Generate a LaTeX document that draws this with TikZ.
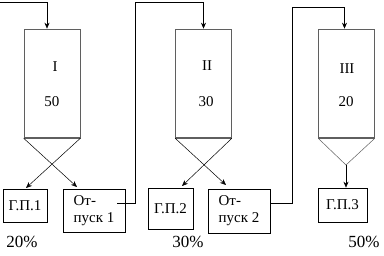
\documentclass[tikz,border=0pt]{standalone}
\usepackage{fontspec}
\setmainfont{Liberation Serif}
\usetikzlibrary{arrows.meta}
\usetikzlibrary{calc}
\definecolor{lineGray}{RGB}{95,95,95}

\begin{document}
\begin{tikzpicture}[
    x=1pt, y=-1pt,
    line width=0.6pt,
    column/.style={
        draw=lineGray,
        minimum width=56pt,
        minimum height=109pt,
        inner sep=0pt
    },
    outbox/.style={
        draw=black,
        inner sep=0pt,
        font=\fontsize{15}{17}\selectfont
    },
    flow/.style={
        black,
        -{Stealth[length=6pt,width=5pt]}
    },
    funnel/.style={
        draw=lineGray,
        line width=0.5pt
    },
    lbl/.style={font=\fontsize{15}{17}\selectfont},
    pct/.style={font=\fontsize{17}{19}\selectfont}
]
    \useasboundingbox (0,0) rectangle (384,256);

    % columns
    \node[column] (col1) at (52,83.5) {};
    \node[column] (col2) at (203.5,83.5) {};
    \node[column] (col3) at (346.5,83.5) {};

    \node[lbl] (num1) at (55,67) {I};
    \node[lbl] (vol1) at (52,102) {50};
    \node[lbl] (num2) at (207,66) {II};
    \node[lbl] (vol2) at (206,102) {30};
    \node[lbl] (num3) at (347,69) {III};
    \node[lbl] (vol3) at (346,102) {20};

    \foreach \i in {1,2,3} {
        \draw[lineGray, line width=1.6pt] (col\i.south west) -- (col\i.south east);
    }

    % receivers
    \node[outbox, minimum width=44pt, minimum height=33pt] (gp1) at (25,205.5) {Г.П.1};
    \node[outbox, minimum width=62pt, minimum height=43pt, align=left] (op1) at (94,210.5) {От-\\пуск 1};
    \node[outbox, minimum width=45pt, minimum height=41pt] (gp2) at (170.5,208.5) {Г.П.2};
    \node[outbox, minimum width=62pt, minimum height=44pt, align=left] (op2) at (239,211) {От-\\пуск 2};
    \node[outbox, minimum width=49pt, minimum height=34pt] (gp3) at (342.5,205) {Г.П.3};

    \node[pct] (p1) at (22,242) {20\%};
    \node[pct] (p2) at (188,242) {30\%};
    \node[pct] (p3) at (364,242) {50\%};

    % funnel outlets
    \coordinate (a1) at (77,187);
    \coordinate (b1) at (26,188);
    \coordinate (a2) at (226,185);
    \coordinate (b2) at (182,186);
    \coordinate (v3) at (346,165);

    \draw[funnel, flow] (col1.south west) -- (a1);
    \draw[funnel, flow] (col1.south east) -- (b1);
    \draw[funnel, flow] (col2.south west) -- (a2);
    \draw[funnel, flow] (col2.south east) -- (b2);
    \draw[funnel] (col3.south west) -- (v3) -- (col3.south east);
    \draw[flow] (v3) -- (v3 |- gp3.north);

    % feed lines
    \coordinate (in1) at (0,2);
    \coordinate (o1) at (117,203);
    \draw[flow] (in1) -| ($(col1.north)+(-5,0)$);
    \draw[flow] (o1) -- ++(18,0) |- ($(col2.north)+(0,-26)$) -- (col2.north);
    \draw[flow] ($(op2.east)+(0,-8)$) -- ++(22,0) |- ($(col3.north)+(-2,-21)$) -- ++(0,21);

\end{tikzpicture}
\end{document}
